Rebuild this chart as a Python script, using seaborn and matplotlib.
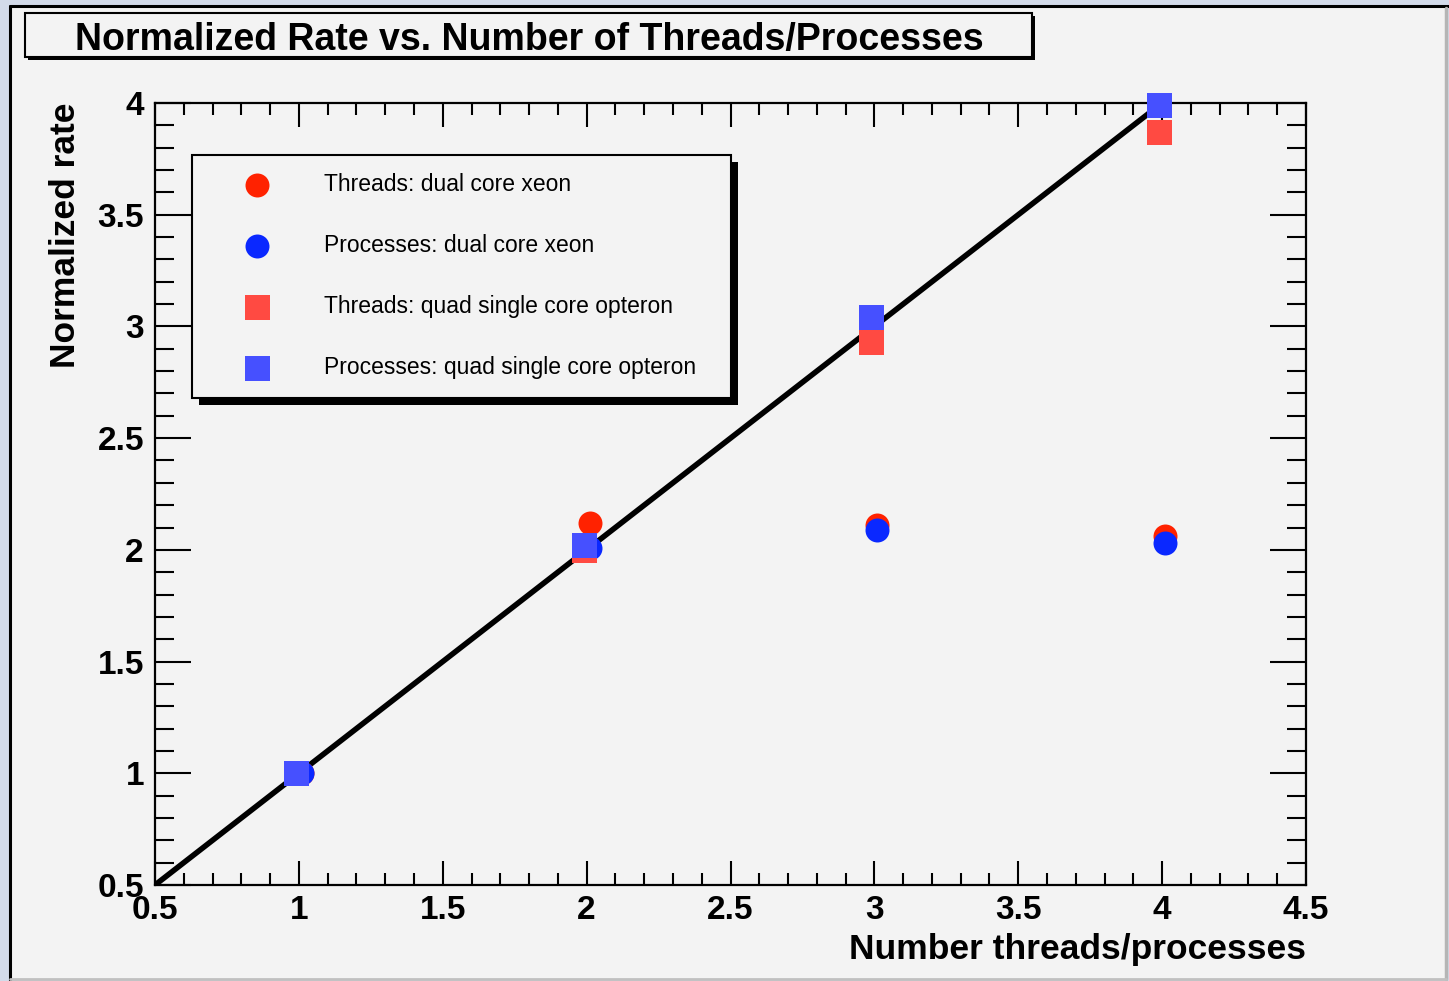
import matplotlib
matplotlib.use("Agg")
import matplotlib.pyplot as plt
import matplotlib.patches as mpatches
from matplotlib.ticker import MultipleLocator, FormatStrFormatter
import seaborn as sns
import pandas as pd

# values
x_dual = [1.01, 2.01, 3.01, 4.01]
x_quad = [0.99, 1.99, 2.99, 3.99]
threads_xeon = [1.0, 2.12, 2.11, 2.06]
processes_xeon = [1.0, 2.01, 2.09, 2.03]
threads_opteron = [1.0, 2.0, 2.93, 3.87]
processes_opteron = [1.0, 2.02, 3.04, 3.99]
ideal_x = [0.5, 4.0]
ideal_y = [0.5, 4.0]

labels = ["Threads: dual core xeon", "Processes: dual core xeon",
          "Threads: quad single core opteron", "Processes: quad single core opteron"]

W, H = 1449, 981
PANEL = "#f3f3f3"

sns.set_style("ticks")
plt.rcParams["font.family"] = ["Liberation Sans", "DejaVu Sans"]
plt.rcParams.update({"text.color": "black", "axes.labelcolor": "black",
                     "xtick.color": "black", "ytick.color": "black"})


def fx(px):
    return px / W


def fy(py):
    return 1 - py / H


fig = plt.figure(figsize=(W / 100, H / 100), dpi=100, facecolor="#d3dbea")

# canvas panel of the slide screenshot
fig.patches.append(mpatches.Rectangle((fx(10), fy(979)), fx(1435), 973 / H, transform=fig.transFigure,
                                      facecolor=PANEL, edgecolor="none", zorder=-5))
fig.add_artist(plt.Line2D([fx(10), fx(10)], [fy(6), 0], color="black", lw=2.2, zorder=-4))
fig.add_artist(plt.Line2D([fx(10), 1], [fy(6), fy(6)], color="black", lw=2.2, zorder=-4))
fig.add_artist(plt.Line2D([fx(1446), fx(1446)], [fy(8), fy(979)], color="#b5b5b5", lw=2.5, zorder=-4))
fig.add_artist(plt.Line2D([fx(10), fx(1446)], [fy(979), fy(979)], color="#c0c0c0", lw=2, zorder=-4))

ax = fig.add_axes([fx(155), fy(885), fx(1306 - 155), (885 - 103) / H])
ax.set_facecolor(PANEL)

sns.lineplot(x=ideal_x, y=ideal_y, color="black", lw=4, ax=ax, zorder=2)

series = [
    (x_dual, threads_xeon, "o", "#ff2200", 298),
    (x_dual, processes_xeon, "o", "#0a28ff", 298),
    (x_quad, threads_opteron, "s", "#ff4a42", 324),
    (x_quad, processes_opteron, "s", "#4650ff", 324),
]
for (xs, ys, mk, col, size), lab in zip(series, labels):
    df = pd.DataFrame({"n": xs, "rate": ys})
    sns.scatterplot(data=df, x="n", y="rate", marker=mk, color=col, s=size, linewidth=0,
                    label=lab, ax=ax, zorder=3, clip_on=False)

ax.set_xlim(0.5, 4.5)
ax.set_ylim(0.5, 4.0)
ax.xaxis.set_major_locator(MultipleLocator(0.5))
ax.xaxis.set_minor_locator(MultipleLocator(0.1))
ax.yaxis.set_major_locator(MultipleLocator(0.5))
ax.yaxis.set_minor_locator(MultipleLocator(0.1))
ax.xaxis.set_major_formatter(FormatStrFormatter("%g"))
ax.yaxis.set_major_formatter(FormatStrFormatter("%g"))

ax.tick_params(which="both", direction="in", top=True, right=True, width=1.5, color="black")
ax.tick_params(axis="x", which="major", length=17, pad=7, labelsize=24)
ax.tick_params(axis="x", which="minor", length=8.5)
ax.tick_params(axis="y", which="major", length=26, pad=8, labelsize=24)
ax.tick_params(axis="y", which="minor", length=13.5)
for lab in ax.get_xticklabels() + ax.get_yticklabels():
    lab.set_fontweight("bold")
for sp in ax.spines.values():
    sp.set_color("black")
    sp.set_linewidth(1.6)

ax.set_xlabel("Number threads/processes", fontsize=25.5, fontweight="bold", loc="right")
ax.set_ylabel("Normalized rate", fontsize=25.5, fontweight="bold", loc="top")
ax.xaxis.set_label_coords(1.0, -0.062)
ax.yaxis.set_label_coords(-0.063, 1.0)

leg = ax.legend(loc="upper left", bbox_to_anchor=(fx(192), fy(155) - 0.001, fx(731 - 192), 0.001),
                bbox_transform=fig.transFigure, mode="expand", borderaxespad=0, fontsize=16.5,
                frameon=True, fancybox=False, framealpha=1, facecolor=PANEL, edgecolor="black",
                borderpad=0.8, handlelength=4.1, handletextpad=0.88, labelspacing=1.66,
                scatterpoints=1)
leg.get_frame().set_linewidth(1.5)
leg.set_zorder(5)

fig.canvas.draw()
bb = leg.get_window_extent()
ax.add_patch(mpatches.Rectangle((fx(bb.x0 + 7), (bb.y0 - 7) / H), fx(bb.width), bb.height / H,
                                transform=fig.transFigure, facecolor="black", edgecolor="none",
                                zorder=4.9, clip_on=False))

# title pave with its shadow
fig.patches.append(mpatches.Rectangle((fx(28), fy(60)), fx(1007), 44 / H, transform=fig.transFigure,
                                      facecolor="black", edgecolor="none", zorder=1))
fig.patches.append(mpatches.Rectangle((fx(25), fy(57)), fx(1007), 44 / H, transform=fig.transFigure,
                                      facecolor=PANEL, edgecolor="black", lw=1.5, zorder=2))
fig.text(fx(529), fy(40), "Normalized Rate vs. Number of Threads/Processes", ha="center", va="center",
         fontsize=27, fontweight="bold", zorder=3)

fig.savefig("out.png", dpi=100, facecolor=fig.get_facecolor())
